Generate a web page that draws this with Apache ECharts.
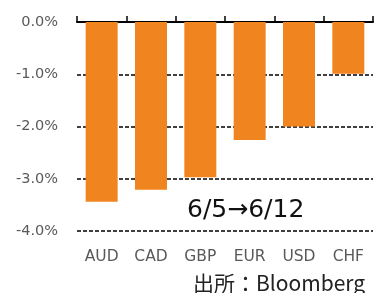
<!DOCTYPE html>
<html>
<head>
<meta charset="utf-8">
<script src="https://cdn.jsdelivr.net/npm/echarts@6/dist/echarts.min.js"></script>
<style>
  html, body { margin: 0; padding: 0; background: #fff; }
  #chart { width: 374px; height: 293px; }
</style>
</head>
<body>
<div id="chart"></div>
<script>
// 通貨と変化率(%)
let currencies = ['AUD', 'CAD', 'GBP', 'EUR', 'USD', 'CHF'];
let changes = [-3.44, -3.21, -2.97, -2.26, -2.0, -0.99];

let chart = echarts.init(document.getElementById('chart'));

let option = {
  animation: false,
  textStyle: { fontFamily: 'DejaVu Sans' },
  title: [
    {
      text: '6/5→6/12',
      left: 182,
      top: 193,
      textStyle: { fontSize: 25, fontWeight: 'normal', color: '#111', fontFamily: 'DejaVu Sans' }
    },
    {
      text: '出所：Bloomberg',
      left: 188,
      top: 268,
      textStyle: { fontSize: 21, fontWeight: 'normal', color: '#222', fontFamily: 'Noto Sans CJK JP' }
    }
  ],
  grid: { left: 77, right: 1, top: 22, bottom: 62 },
  xAxis: [
    {
      type: 'category',
      data: currencies,
      position: 'top',
      axisLine: { show: true, onZero: false, lineStyle: { color: '#000', width: 2 } },
      axisTick: { show: true, length: 6, lineStyle: { color: '#000', width: 1.5 } },
      axisLabel: { show: false },
      splitLine: { show: false }
    },
    {
      type: 'category',
      data: currencies,
      position: 'bottom',
      axisLine: { show: false },
      axisTick: { show: false },
      axisLabel: { color: '#595959', fontSize: 15.5, margin: 18 }
    }
  ],
  yAxis: {
    type: 'value',
    min: -4,
    max: 0,
    interval: 1,
    axisLine: { show: false },
    axisTick: { show: false },
    axisLabel: {
      color: '#595959',
      fontSize: 14.5,
      margin: 19,
      formatter: function (v) { return v.toFixed(1) + '%'; }
    },
    splitLine: { lineStyle: { color: '#000', type: [4, 2], width: 1.5 } }
  },
  series: [
    {
      name: '変化率',
      type: 'bar',
      xAxisIndex: 0,
      data: changes,
      barWidth: 32,
      itemStyle: { color: '#F08520' }
    }
  ]
};

chart.setOption(option);
</script>
</body>
</html>
